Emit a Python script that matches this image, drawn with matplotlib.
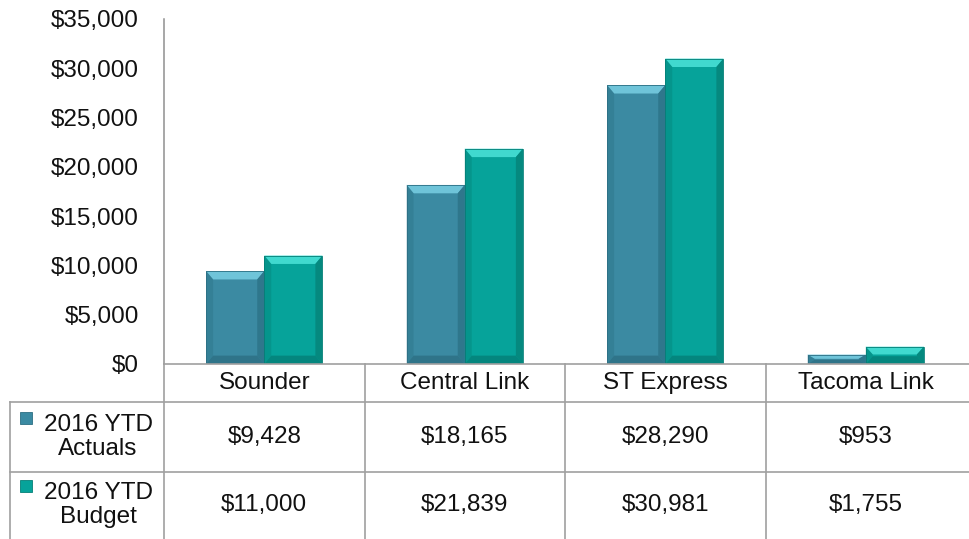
import matplotlib.pyplot as plt
from matplotlib.patches import Polygon, Rectangle
from matplotlib.lines import Line2D
from matplotlib.transforms import blended_transform_factory
from matplotlib.ticker import FuncFormatter

categories = ['Sounder', 'Central Link', 'ST Express', 'Tacoma Link']
actuals = [9428, 18165, 28290, 953]
budget = [11000, 21839, 30981, 1755]
series_names = ['2016 YTD\nActuals', '2016 YTD\nBudget']
yticks = [0, 5000, 10000, 15000, 20000, 25000, 30000, 35000]

W, H = 969, 539
plt.rcParams['font.family'] = ['Liberation Sans', 'DejaVu Sans']
FS = 17.5

fig = plt.figure(figsize=(W / 100, H / 100), dpi=100)
ax = fig.add_axes([164 / W, 1 - 364 / H, 802 / W, 345 / H])


def fx(px):
    return px / W


def fy(py):
    return 1 - py / H


# colours: main, light top, darker sides, bottom
styles = [
    ('#3b8aa2', '#6fc4d9', '#2f778c', '#2c6f83'),
    ('#06a39a', '#40d9cf', '#05897f', '#047f77'),
]
bar_w = 0.29
ax.set_xlim(-0.5, 3.5)
ax.set_ylim(0, 35000)


def bevel_bar(x0, h, st):
    main, light, side, bottom = st
    ax.add_patch(Rectangle((x0, 0), bar_w, h, facecolor=main, edgecolor='none', zorder=2))
    bx = 0.035
    by = min(850, h * 0.45)
    x1 = x0 + bar_w
    # top
    ax.add_patch(Polygon([(x0, h), (x1, h), (x1 - bx, h - by), (x0 + bx, h - by)],
                         facecolor=light, edgecolor='none', zorder=3))
    # sides
    ax.add_patch(Polygon([(x0, h), (x0 + bx, h - by), (x0 + bx, by), (x0, 0)],
                         facecolor=side, edgecolor='none', zorder=3, alpha=0.5))
    ax.add_patch(Polygon([(x1, h), (x1 - bx, h - by), (x1 - bx, by), (x1, 0)],
                         facecolor=side, edgecolor='none', zorder=3))
    # bottom
    ax.add_patch(Polygon([(x0, 0), (x1, 0), (x1 - bx, by), (x0 + bx, by)],
                         facecolor=bottom, edgecolor='none', zorder=3, alpha=0.8))
    ax.add_patch(Rectangle((x0, 0), bar_w, h, facecolor='none', edgecolor=bottom,
                           linewidth=0.6, zorder=4))


for i in range(len(categories)):
    bevel_bar(i - bar_w, actuals[i], styles[0])
    bevel_bar(i, budget[i], styles[1])

ax.set_yticks(yticks)
ax.yaxis.set_major_formatter(FuncFormatter(lambda v, p: '${:,.0f}'.format(v)))
ax.tick_params(axis='y', length=0, labelsize=FS, pad=18, colors='#111111')
ax.tick_params(axis='x', length=0, labelbottom=False)
for s in ['top', 'right', 'bottom']:
    ax.spines[s].set_visible(False)
ax.spines['left'].set_color('#909090')
ax.spines['left'].set_linewidth(1.1)

# data table
lc = '#a0a0a0'
lw = 1.2
fig.add_artist(Line2D([fx(164), 1], [fy(364), fy(364)], color=lc, lw=lw))
fig.add_artist(Line2D([fx(10), 1], [fy(402), fy(402)], color=lc, lw=lw))
fig.add_artist(Line2D([fx(10), 1], [fy(472), fy(472)], color=lc, lw=lw))
fig.add_artist(Line2D([fx(10), fx(10)], [fy(402), 0], color=lc, lw=lw))
tr = blended_transform_factory(ax.transData, fig.transFigure)
for b in [-0.5, 0.5, 1.5, 2.5]:
    fig.add_artist(Line2D([b, b], [fy(364), 0], color=lc, lw=lw, transform=tr))

rows = [actuals, budget]
row_y = [437, 505]
for i, c in enumerate(categories):
    fig.text(i, fy(383), c, transform=tr, ha='center', va='center', fontsize=FS, color='#111111')
    for r, vals in enumerate(rows):
        fig.text(i, fy(row_y[r]), '${:,.0f}'.format(vals[i]), transform=tr,
                 ha='center', va='center', fontsize=FS, color='#111111')

for r, name in enumerate(series_names):
    fig.text(fx(98), fy(row_y[r]), name, ha='center', va='center', fontsize=FS,
             multialignment='center', linespacing=1.1, color='#111111')
    fig.add_artist(Rectangle((fx(20), fy(row_y[r] - 13)), 12 / W, 12 / H,
                             transform=fig.transFigure, facecolor=styles[r][0],
                             edgecolor=styles[r][3], lw=0.6))

fig.savefig('out.png', dpi=100)
